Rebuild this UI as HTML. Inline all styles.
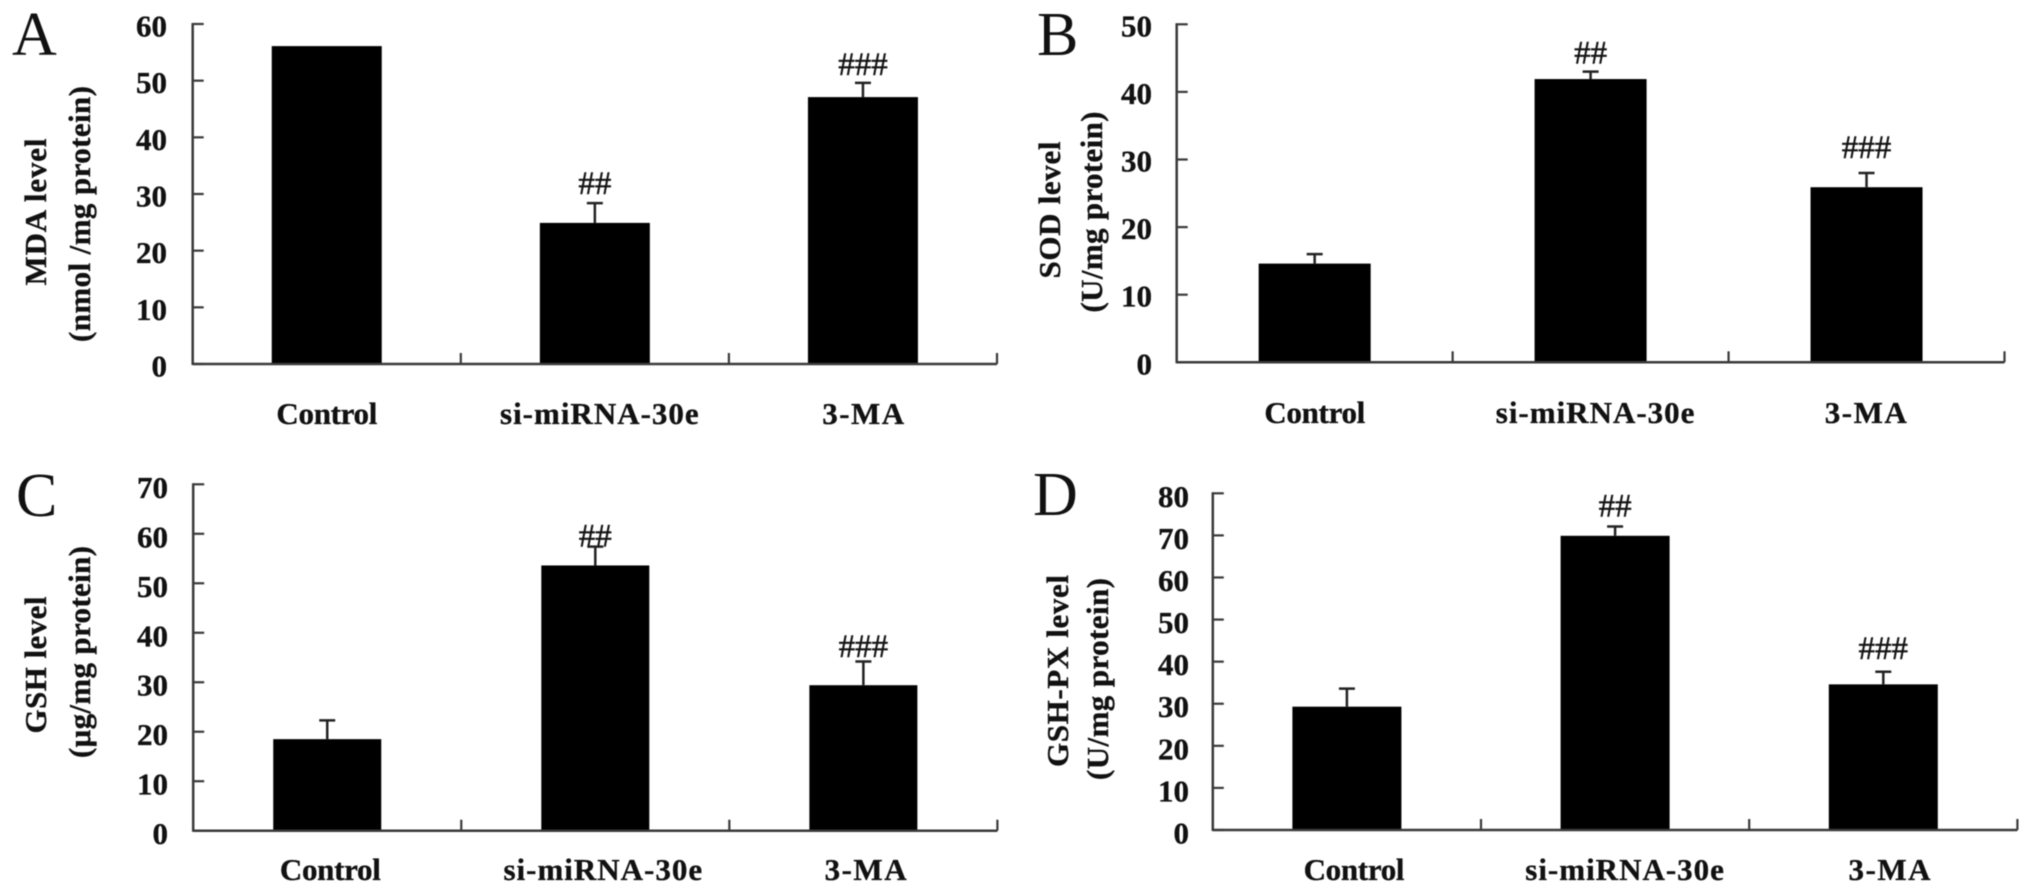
<!DOCTYPE html>
<html lang="en">
<head>
<meta charset="utf-8">
<title>Oxidative stress markers</title>
<style>
html,body{margin:0;padding:0;background:#fff;width:2031px;height:894px;overflow:hidden}
svg{display:block;filter:blur(.6px)}
text{font-family:"Liberation Serif","DejaVu Serif",serif;fill:#111}
.b{font-weight:700;stroke:#111;stroke-width:.35px}
.h{stroke:#222;stroke-width:.5px}
</style>
</head>
<body>
<svg id="figure" xmlns="http://www.w3.org/2000/svg" width="2031" height="894" viewBox="0 0 2031 894"></svg>
<script>
// ---- data ----
const categories = ["Control", "si-miRNA-30e", "3-MA"];

const mdaValues = [56.1, 24.9, 47.1];
const mdaErrorTops = [null, 28.4, 49.6];
const mdaTicks = ["0", "10", "20", "30", "40", "50", "60"];

const sodValues = [14.6, 41.9, 25.9];
const sodErrorTops = [16.0, 43.0, 28.0];
const sodTicks = ["0", "10", "20", "30", "40", "50"];

const gshValues = [18.5, 53.6, 29.4];
const gshErrorTops = [22.3, 57.4, 34.2];
const gshTicks = ["0", "10", "20", "30", "40", "50", "60", "70"];

const gpxValues = [29.3, 69.9, 34.6];
const gpxErrorTops = [33.6, 72.1, 37.6];
const gpxTicks = ["0", "10", "20", "30", "40", "50", "60", "70", "80"];

const significance = ["", "##", "###"];

// ---- layout ----
const panels = [
  {id:"a", letter:"A", lx:12, ly:55, values:mdaValues, errs:mdaErrorTops, ticks:mdaTicks,
   left:192.7, right:997, top:24, bottom:364, barW:110, tickLabelRight:167, tickLabelShift:2,
   catBaseline:424, catShift:[0,5,1], hashGap:[0,9,8],
   title1:"MDA level", t1x:46, t1y:212, t1len:147,
   title2:"(nmol /mg protein)", t2x:90, t2y:214, t2len:256},
  {id:"b", letter:"B", lx:1037, ly:55, values:sodValues, errs:sodErrorTops, ticks:sodTicks,
   left:1176.7, right:2004.5, top:24.3, bottom:362.3, barW:112, tickLabelRight:1152, tickLabelShift:1.5,
   catBaseline:423, catShift:[0,5,0], hashGap:[0,8,15],
   title1:"SOD level", t1x:1060, t1y:210, t1len:137,
   title2:"(U/mg protein)", t2x:1102, t2y:212, t2len:201},
  {id:"c", letter:"C", lx:16, ly:516, values:gshValues, errs:gshErrorTops, ticks:gshTicks,
   left:193.2, right:997.4, top:484.3, bottom:830.7, barW:108, tickLabelRight:168, tickLabelShift:3,
   catBaseline:880, catShift:[3,8,3], hashGap:[0,0,4.5],
   title1:"GSH level", t1x:46, t1y:665, t1len:137,
   title2:"(\u03bcg/mg protein)", t2x:90, t2y:652, t2len:212},
  {id:"d", letter:"D", lx:1033, ly:515, values:gpxValues, errs:gpxErrorTops, ticks:gpxTicks,
   left:1212.8, right:2017.4, top:493.3, bottom:830, barW:109, tickLabelRight:1189, tickLabelShift:3,
   catBaseline:880, catShift:[7,10,7], hashGap:[0,10,13],
   title1:"GSH-PX level", t1x:1068, t1y:671, t1len:192,
   title2:"(U/mg protein)", t2x:1108, t2y:679, t2len:202}
];

const catSpacing = [-0.3, 1, 1.5];
const NS = "http://www.w3.org/2000/svg";
const AXIS = "#3a3a3a";
const root = document.getElementById("figure");

function make(tag, attrs, parent, txt) {
  const n = document.createElementNS(NS, tag);
  for (const k in attrs) n.setAttribute(k, attrs[k]);
  if (txt !== undefined) n.textContent = txt;
  parent.appendChild(n);
  return n;
}

panels.forEach(function (p) {
  const maxV = Number(p.ticks[p.ticks.length - 1]);
  const yScale = function (v) { return p.bottom - (v / maxV) * (p.bottom - p.top); };
  const bandW = (p.right - p.left) / categories.length;
  const xBand = function (i) { return p.left + bandW * (i + 0.5); };

  const g = make("g", {}, root);
  
  

  const letter = make("text", {x:p.lx, y:p.ly, "font-size":62, fill:"#111"}, g, p.letter);
  
  

  const t1 = make("text", {"class":"b", transform:"translate(" + p.t1x + "," + p.t1y + ") rotate(-90)", "text-anchor":"middle", "font-size":31, textLength:p.t1len, lengthAdjust:"spacing"}, g, p.title1);
  
  

  const t2 = make("text", {"class":"b", transform:"translate(" + p.t2x + "," + p.t2y + ") rotate(-90)", "text-anchor":"middle", "font-size":31, textLength:p.t2len, lengthAdjust:"spacing"}, g, p.title2);
  
  

  // bars, error bars, significance marks
  categories.forEach(function (cat, i) {
    const cx = xBand(i);
    const top = yScale(p.values[i]);

    const bar = make("rect", {x:cx - p.barW / 2, y:top, width:p.barW, height:p.bottom - top, fill:"#000"}, g);
    
    

    let anchorY = top;
    if (p.errs[i] !== null) {
      const ey = yScale(p.errs[i]);
      anchorY = ey;
      const stem = make("line", {x1:cx, x2:cx, y1:top, y2:ey, stroke:"#222", "stroke-width":2.5}, g);
      
      
      const cap = make("line", {x1:cx - 8, x2:cx + 8, y1:ey, y2:ey, stroke:"#222", "stroke-width":2.5}, g);
      
      
    }

    if (significance[i]) {
      const mark = make("text", {"class":"h", x:cx, y:anchorY - p.hashGap[i], "text-anchor":"middle", "font-size":33, fill:"#222"}, g, significance[i]);
      
      
    }

    const lab = make("text", {"class":"b", x:cx + p.catShift[i], y:p.catBaseline, "text-anchor":"middle", "font-size":31, "letter-spacing":catSpacing[i]}, g, cat);
    
    
  });

  // y axis
  const yAxis = make("line", {x1:p.left, x2:p.left, y1:p.top - 1, y2:p.bottom + 1, stroke:AXIS, "stroke-width":2.5}, g);
  
  

  p.ticks.forEach(function (t) {
    const ty = yScale(Number(t));
    const tick = make("line", {x1:p.left, x2:p.left + 11, y1:ty, y2:ty, stroke:AXIS, "stroke-width":2.2}, g);
    
    
    const tl = make("text", {"class":"b", x:p.tickLabelRight, y:ty + 10.5 + p.tickLabelShift, "text-anchor":"end", "font-size":31}, g, t);
    
    
  });

  // x axis
  const xAxis = make("line", {x1:p.left, x2:p.right, y1:p.bottom, y2:p.bottom, stroke:AXIS, "stroke-width":2.5}, g);
  
  

  categories.forEach(function (cat, i) {
    const tx = p.left + bandW * (i + 1);
    const xt = make("line", {x1:tx, x2:tx, y1:p.bottom, y2:p.bottom - 11, stroke:AXIS, "stroke-width":2.2}, g);
    
    
  });
});
</script>
</body>
</html>
